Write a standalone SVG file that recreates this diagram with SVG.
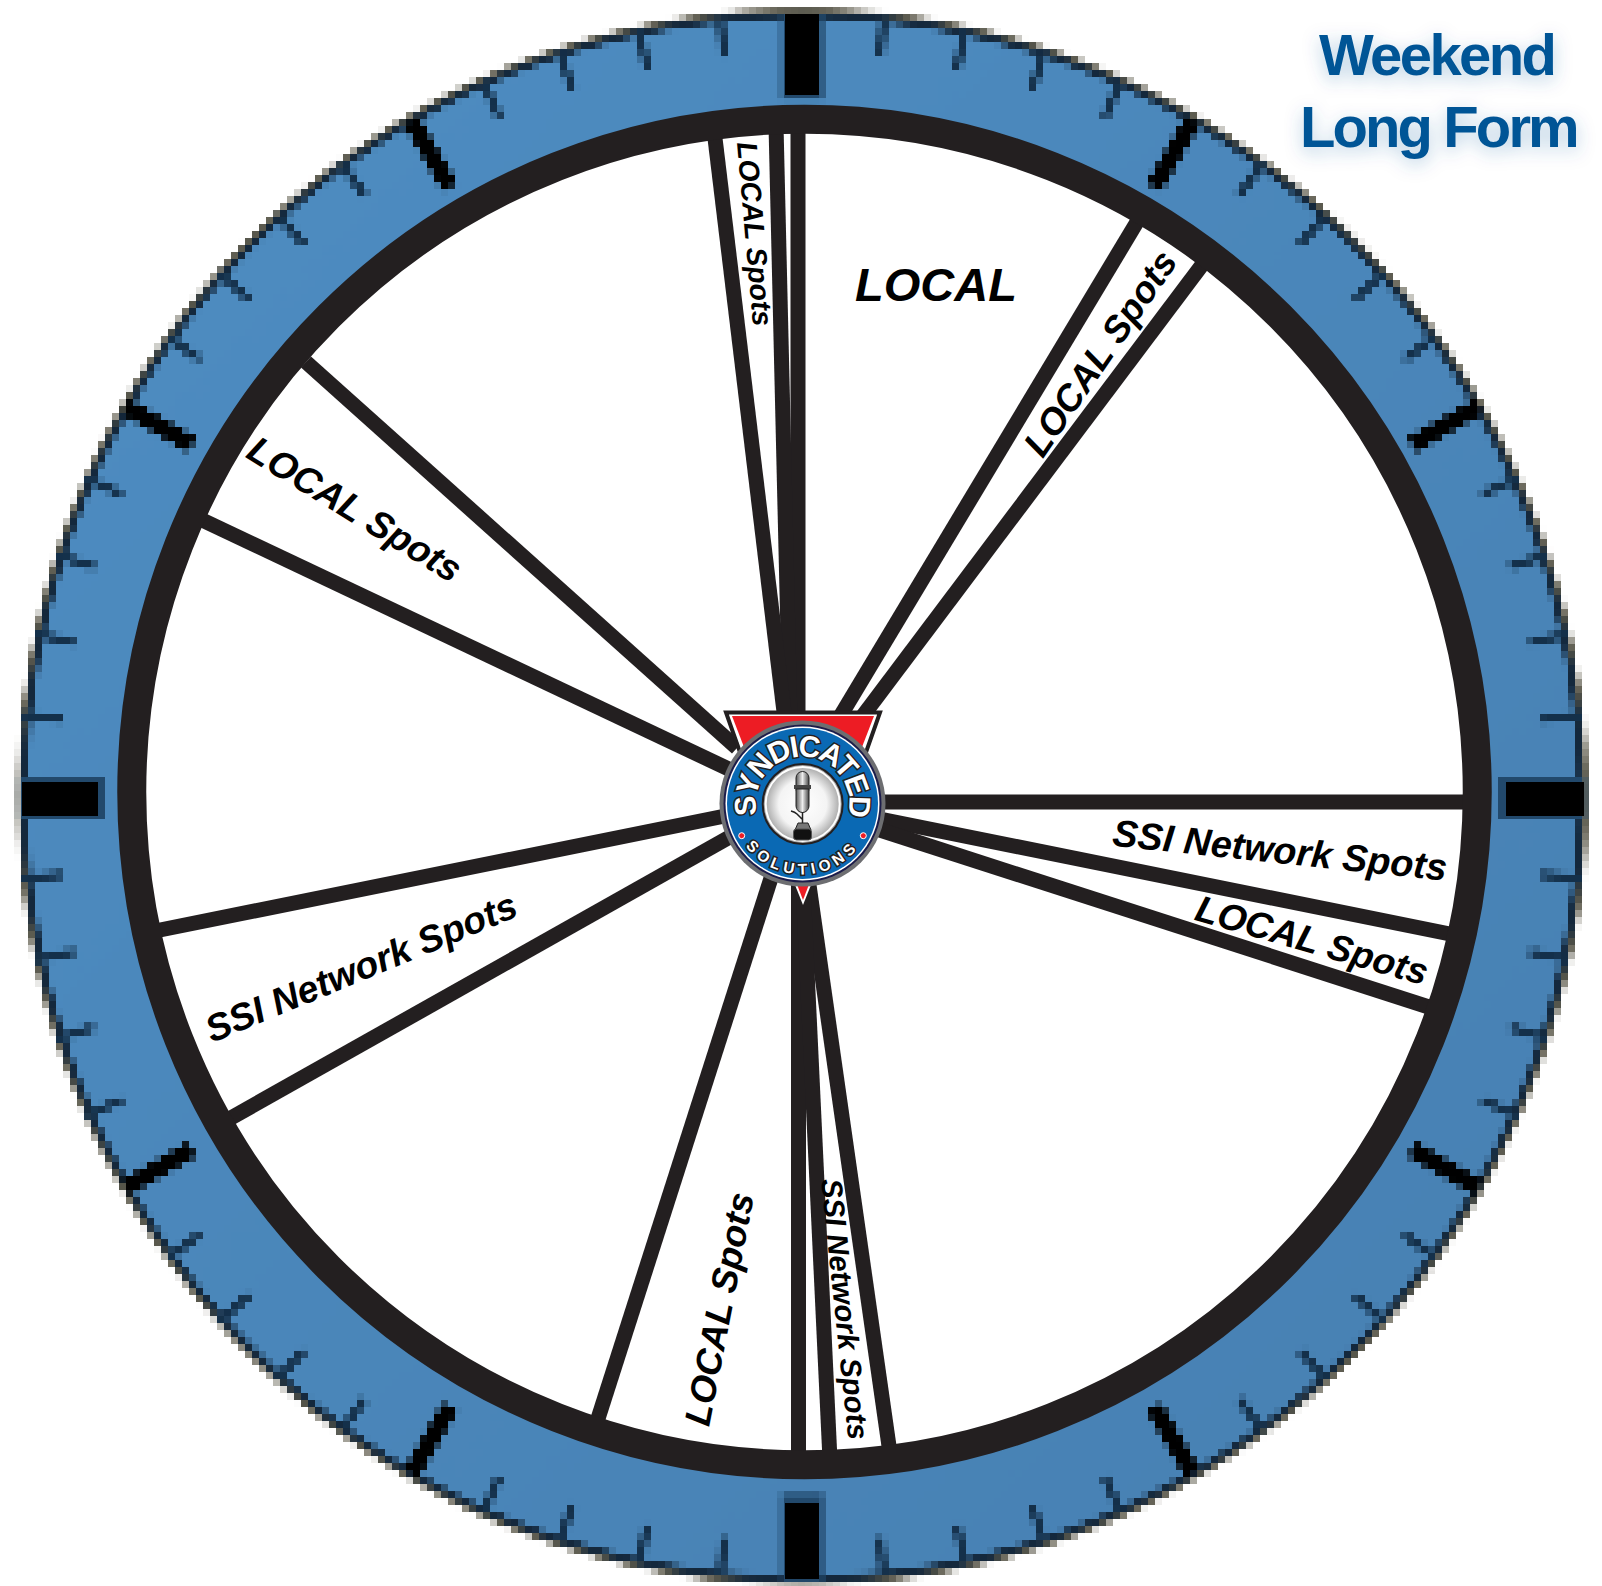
<svg xmlns="http://www.w3.org/2000/svg" xmlns:xlink="http://www.w3.org/1999/xlink" width="1602" height="1586" viewBox="0 0 1602 1586">
<style>
.sp{stroke:#231f20;stroke-width:15;fill:none}
.lb{font-family:"Liberation Sans",Arial,sans-serif;font-weight:700;font-style:italic;fill:#000;text-anchor:middle}
.ttl{font-family:"Liberation Sans",Arial,sans-serif;font-weight:700;fill:#005596}
.mc{stroke:#14304a;stroke-width:8;fill:none}
.maj{stroke:#000;stroke-width:17;fill:none}
.card{fill:#000}
.cardh{fill:#22496c}
.lg{font-family:"Liberation Sans",Arial,sans-serif;font-weight:700;fill:#fff;stroke:#231f20;paint-order:stroke;text-anchor:middle}
</style>
<defs>
<linearGradient id="blue" x1="0" y1="0" x2="1" y2="1"><stop offset="0" stop-color="#4e8dc2"/><stop offset="1" stop-color="#4780b2"/></linearGradient>
<radialGradient id="face" cx=".5" cy=".5" r=".5"><stop offset="0" stop-color="#fff"/><stop offset=".6" stop-color="#f4f4f4"/><stop offset="1" stop-color="#9a9a9a"/></radialGradient>
<linearGradient id="steel" x1="0" x2="1" y1="0" y2="0"><stop offset="0" stop-color="#555"/><stop offset=".5" stop-color="#eee"/><stop offset="1" stop-color="#444"/></linearGradient>
<filter id="glow" x="-20%" y="-40%" width="140%" height="190%"><feDropShadow dx="0" dy="5" stdDeviation="9" flood-color="#005596" flood-opacity=".3"/></filter>
<filter id="pix" filterUnits="userSpaceOnUse" x="0" y="0" width="1602" height="1586" color-interpolation-filters="sRGB">
<feGaussianBlur in="SourceGraphic" stdDeviation="1.1" result="s"/>
<feFlood x="3" y="3" width="1" height="1" flood-color="#000"/>
<feComposite width="7" height="7"/>
<feTile result="a"/>
<feComposite in="s" in2="a" operator="in"/>
<feMorphology operator="dilate" radius="3"/>
<feGaussianBlur stdDeviation=".6"/>
</filter>
<g id="minor"><line class="mc" x1="0" y1="-784" x2="0" y2="-744"/></g>
<g id="sector">
<line class="maj" x1="0" y1="-781" x2="0" y2="-704"/>
<use xlink:href="#minor" href="#minor" transform="rotate(6)"/><use xlink:href="#minor" href="#minor" transform="rotate(12)"/><use xlink:href="#minor" href="#minor" transform="rotate(18)"/><use xlink:href="#minor" href="#minor" transform="rotate(24)"/>
</g>
<path id="arcTop" d="M802.5 850.5A47 47 0 0 1 802.5 756.5A47 47 0 0 1 802.5 850.5"/>
<path id="arcBot" d="M802.5 732.5A71 71 0 0 0 802.5 874.5A71 71 0 0 0 802.5 732.5"/>
</defs>

<g id="dial">
<g filter="url(#pix)">
<ellipse cx="802.5" cy="797" rx="785" ry="788.5" fill="#5c594a"/>
<ellipse cx="802.5" cy="797" rx="781.5" ry="785" fill="#14283c"/>
<ellipse cx="802.5" cy="797" rx="775" ry="778.5" fill="url(#blue)"/>
<g id="ticks" transform="translate(802 797)">
<use xlink:href="#sector" href="#sector"/><use xlink:href="#sector" href="#sector" transform="rotate(30)"/><use xlink:href="#sector" href="#sector" transform="rotate(60)"/><use xlink:href="#sector" href="#sector" transform="rotate(90)"/><use xlink:href="#sector" href="#sector" transform="rotate(120)"/><use xlink:href="#sector" href="#sector" transform="rotate(150)"/><use xlink:href="#sector" href="#sector" transform="rotate(180)"/><use xlink:href="#sector" href="#sector" transform="rotate(210)"/><use xlink:href="#sector" href="#sector" transform="rotate(240)"/><use xlink:href="#sector" href="#sector" transform="rotate(270)"/><use xlink:href="#sector" href="#sector" transform="rotate(300)"/><use xlink:href="#sector" href="#sector" transform="rotate(330)"/>
<rect class="cardh" x="-21" y="-783" width="42" height="86"/>
<rect class="cardh" x="-21" y="-783" width="42" height="86" transform="rotate(90)"/>
<rect class="cardh" x="-21" y="-783" width="42" height="86" transform="rotate(180)"/>
<rect class="cardh" x="-21" y="-783" width="42" height="86" transform="rotate(270)"/>
</g>
</g>
<rect class="card" x="785" y="14" width="34" height="81"/>
<rect class="card" x="785" y="1503" width="34" height="76"/>
<rect class="card" x="22" y="782" width="76" height="34"/>
<rect class="card" x="1506" y="782" width="78" height="34"/>
<circle cx="804.5" cy="792" r="670" fill="#fff"/>
</g>

<g id="spokes">
<line class="sp" x1="798" y1="125" x2="798" y2="720"/>
<line class="sp" x1="776" y1="125" x2="790" y2="720"/>
<line class="sp" x1="714" y1="130" x2="785" y2="720"/>
<line class="sp" x1="1137" y1="222" x2="835" y2="725"/>
<line class="sp" x1="1202" y1="265" x2="856" y2="725"/>
<line class="sp" x1="875" y1="802" x2="1475" y2="802"/>
<line class="sp" x1="880" y1="819" x2="1455" y2="935"/>
<line class="sp" x1="880" y1="830" x2="1435" y2="1009"/>
<line class="sp" x1="809" y1="885" x2="891" y2="1460"/>
<line class="sp" x1="798.5" y1="880" x2="798.5" y2="1460"/>
<line class="sp" x1="803" y1="885" x2="830" y2="1460"/>
<line class="sp" x1="772" y1="875" x2="595" y2="1428"/>
<line class="sp" x1="222" y1="1123" x2="735" y2="834"/>
<line class="sp" x1="155" y1="931" x2="725" y2="816"/>
<line class="sp" x1="200" y1="519" x2="735" y2="772"/>
<line class="sp" x1="306" y1="362" x2="737" y2="748"/>
</g>

<circle id="ring" cx="804.5" cy="792" r="672.75" fill="none" stroke="#231f20" stroke-width="29"/>

<g id="labels">
<text class="lb" font-size="47" x="936" y="301">LOCAL</text>
<text class="lb" font-size="28.5" dy=".35em" transform="translate(755 234) rotate(85)">LOCAL Spots</text>
<text class="lb" font-size="37" dy=".35em" transform="translate(1100 353) rotate(-55.5)">LOCAL Spots</text>
<text class="lb" font-size="37.5" dy=".35em" transform="translate(355 509) rotate(31.5)">LOCAL Spots</text>
<text class="lb" font-size="37.8" dy=".35em" transform="translate(1280 850) rotate(6)">SSI Network Spots</text>
<text class="lb" font-size="37" dy=".35em" transform="translate(1312 940) rotate(16)">LOCAL Spots</text>
<text class="lb" font-size="37.5" dy=".35em" transform="translate(361 967) rotate(-22.5)">SSI Network Spots</text>
<text class="lb" font-size="36.5" dy=".35em" transform="translate(719 1309) rotate(-79)">LOCAL Spots</text>
<text class="lb" font-size="29.5" dy=".35em" transform="translate(845 1309) rotate(84)">SSI Network Spots</text>
</g>

<g id="title" filter="url(#glow)">
<text class="ttl" font-size="58" x="1319" y="75" letter-spacing="-2.6">Weekend</text>
<text class="ttl" font-size="58" x="1300" y="147" letter-spacing="-2.9">Long Form</text>
</g>

<g id="logo">
<polygon points="726,712 880,712 803,905" fill="#fff"/>
<polyline points="748,775 726,712.5 880,712.5 858,775" fill="none" stroke="#231f20" stroke-width="4"/>
<polygon points="732,716 874,716 803,900" fill="#ed1c24"/>
<circle cx="802.5" cy="803.5" r="83" fill="#6d6e71"/>
<circle cx="802.5" cy="803.5" r="79" fill="#1c1c4a"/>
<circle cx="802.5" cy="803.5" r="77" fill="#fff"/>
<circle cx="802.5" cy="803.5" r="75.5" fill="#0a69b4"/>
<text class="lg" font-size="30" stroke-width="3" letter-spacing="-2.2"><textPath href="#arcTop" xlink:href="#arcTop" startOffset="50%">SYNDICATED</textPath></text>
<text class="lg" font-size="15.5" stroke-width="3" letter-spacing="4.6"><textPath href="#arcBot" xlink:href="#arcBot" startOffset="50%">SOLUTIONS</textPath></text>
<circle cx="741.7" cy="835.7" r="3" fill="#ed1c24" stroke="#fff"/>
<circle cx="863.3" cy="835.7" r="3" fill="#ed1c24" stroke="#fff"/>
<circle cx="802.7" cy="804" r="40" fill="url(#face)" stroke="#231f20" stroke-width="2"/>
<circle cx="802.7" cy="804" r="37" fill="none" stroke="#fff" stroke-width="2"/>
<rect x="796" y="771.5" width="13" height="24" rx="6.5" fill="url(#steel)" stroke="#222"/>
<rect x="794" y="785" width="17" height="4" fill="#444"/>
<path d="M796 789h13v17a6.500 6.500 0 0 1-13 0z" fill="url(#steel)" stroke="#222"/>
<path d="M802.500 812v15M791 811q4 1 6 3l6 6" fill="none" stroke="#222" stroke-width="1.500"/>
<path d="M798 823h10l3 7h-16z" fill="#777" stroke="#222"/>
<rect x="793.500" y="829" width="18" height="11" rx="3" fill="#111" stroke="#555"/>
</g>
</svg>
